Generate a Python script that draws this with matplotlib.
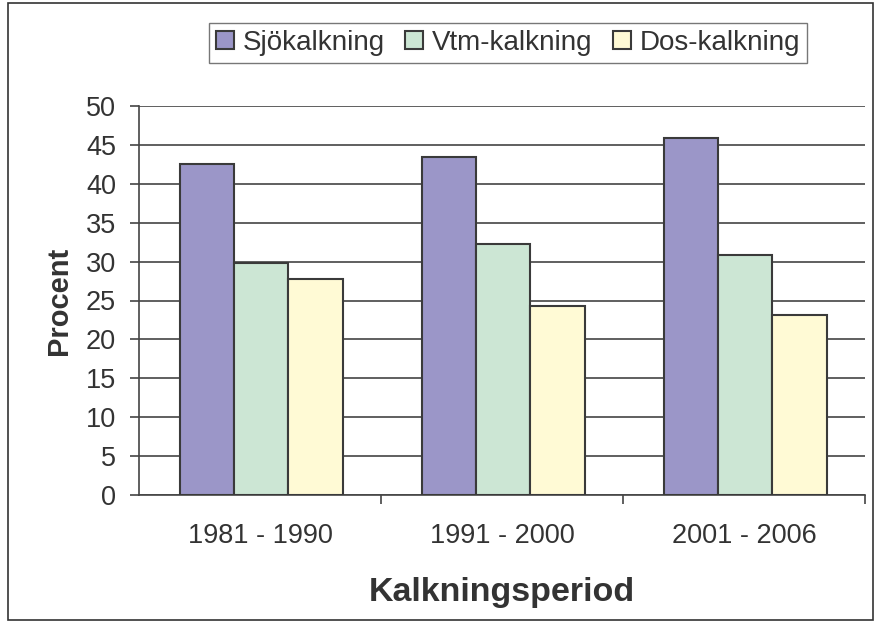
import matplotlib.pyplot as plt
import numpy as np
from matplotlib.patches import Rectangle

# Data
perioder = ['1981 - 1990', '1991 - 2000', '2001 - 2006']
serier = ['Sjökalkning', 'Vtm-kalkning', 'Dos-kalkning']
sjo = [42.5, 43.4, 45.9]
vtm = [29.8, 32.3, 30.9]
dos = [27.8, 24.3, 23.1]
yticks = list(range(0, 55, 5))

plt.rcParams['font.family'] = ['Liberation Sans', 'DejaVu Sans']
textfarg = '#333333'

fig = plt.figure(figsize=(8.82, 6.27), dpi=100)
ax = fig.add_axes([139/882, 1 - 495/627, (865-139)/882, (495-106)/627])

cores = ['#9B96C8', '#CCE6D4', '#FFFAD5']
x = np.arange(len(perioder))
w = 0.225
for i, (vals, nome) in enumerate(zip([sjo, vtm, dos], serier)):
    ax.bar(x + (i - 1) * w + 0.005, vals, width=w, color=cores[i], edgecolor='#3a3a3a',
           linewidth=1.5, label=nome, zorder=3)

ax.set_xlim(-0.5, 2.5)
ax.set_ylim(0, 50)
ax.set_yticks(yticks)
ax.set_xticks(x)
ax.set_xticklabels(perioder)
ax.tick_params(axis='both', labelsize=19.5, labelcolor=textfarg, color='#444444')
ax.tick_params(axis='y', length=6.5, width=1.2, pad=10)
ax.tick_params(axis='x', length=0, pad=20)
ax.yaxis.grid(True, color='#444444', linewidth=1.2, zorder=0)
for s in ['top', 'right']:
    ax.spines[s].set_visible(False)
for s in ['left', 'bottom']:
    ax.spines[s].set_color('#444444')
    ax.spines[s].set_linewidth(1.2)
# ticks between categories on x-axis
ax.set_xticks([0.5, 1.5, 2.5], minor=True)
ax.tick_params(axis='x', which='minor', length=6.5, width=1.2, color='#444444')

ax.set_ylabel('Procent', fontsize=21, fontweight='bold', color=textfarg, labelpad=9)
ax.set_xlabel('Kalkningsperiod', fontsize=24.5, fontweight='bold', color=textfarg, labelpad=20)

leg = fig.legend(loc='upper center', bbox_to_anchor=(508/882, 1 - 9/627), ncol=3,
                 fontsize=20, frameon=True, fancybox=False, edgecolor='#555555',
                 handlelength=0.65, handleheight=0.65, handletextpad=0.3,
                 columnspacing=0.75, borderpad=0.25)
leg.get_frame().set_linewidth(1.0)
for t in leg.get_texts():
    t.set_color(textfarg)

fig.patches.append(Rectangle((8/882, 1 - 620/627), (873-8)/882, (620-3)/627,
                             transform=fig.transFigure, fill=False,
                             edgecolor='#333333', linewidth=1.2))

fig.savefig('out.png', dpi=100)
